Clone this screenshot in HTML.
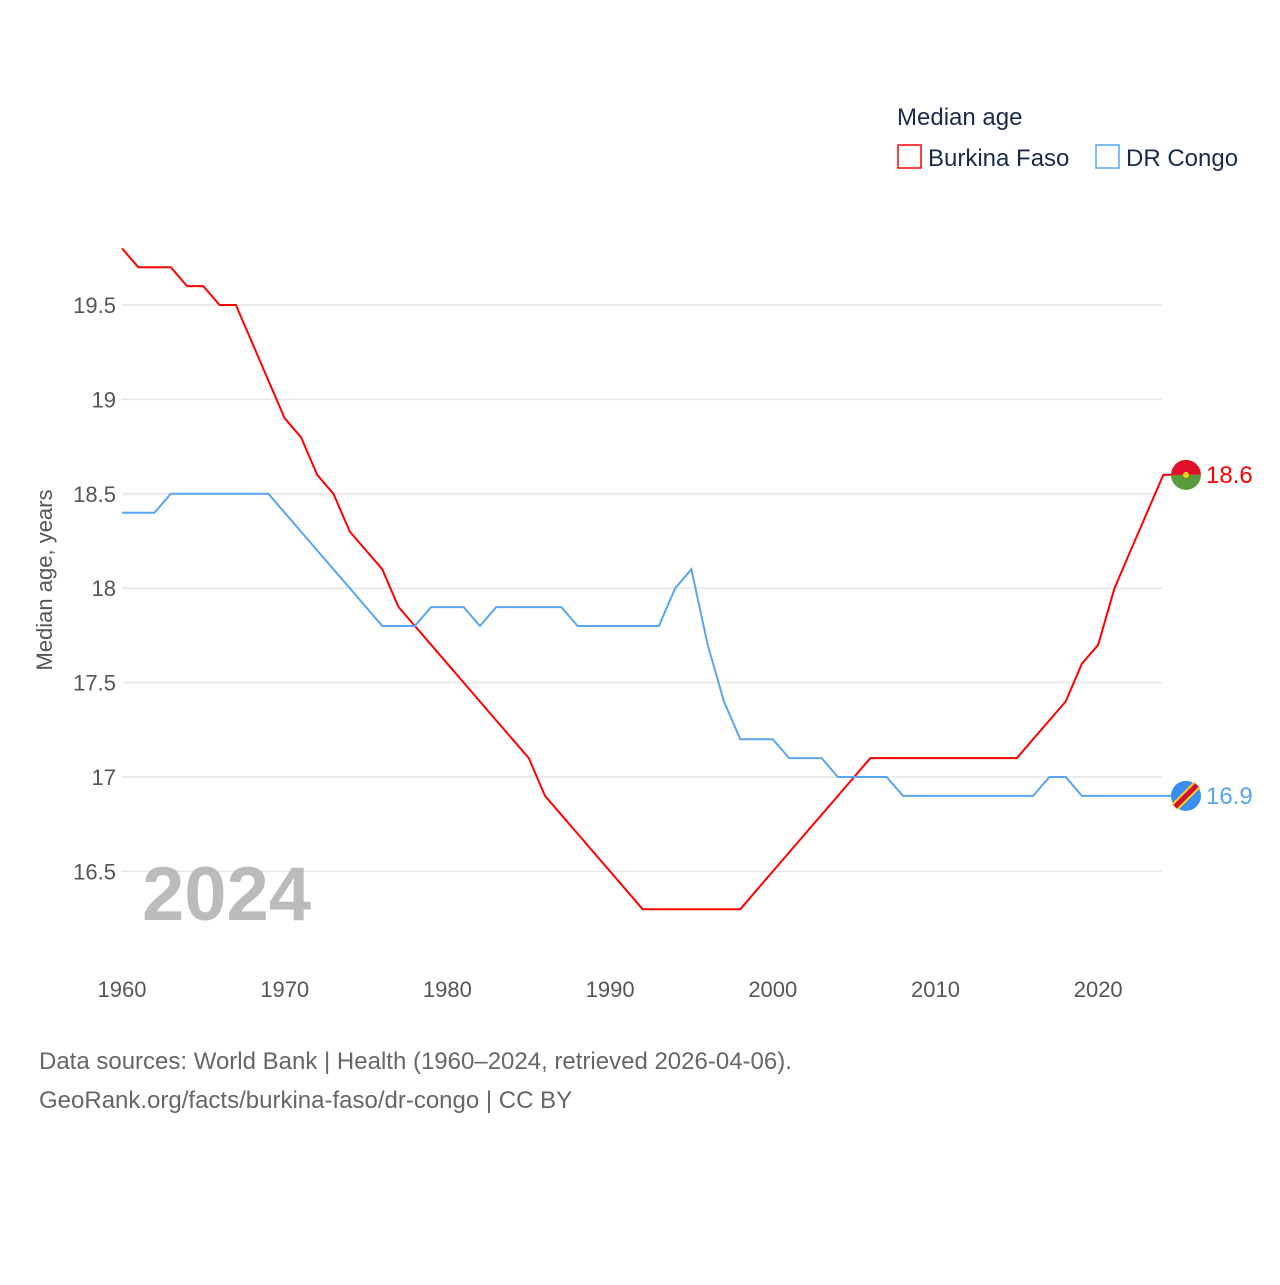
<!DOCTYPE html>
<html><head><meta charset="utf-8"><style>
body{margin:0;background:#fff;font-family:"Liberation Sans",sans-serif;}
svg text{font-family:"Liberation Sans",sans-serif;}
</style></head><body>
<svg width="1280" height="1280" viewBox="0 0 1280 1280">
<g id="grid"></g>
<g id="yticks"></g>
<g id="xticks"></g>
<text x="52" y="580" transform="rotate(-90 52 580)" text-anchor="middle" font-size="22" fill="#555">Median age, years</text>
<text x="142" y="920" font-size="76" font-weight="bold" fill="#bbb">2024</text>
<g id="series"></g>
<text x="897" y="125" font-size="24" fill="#1a2b4a">Median age</text>
<g><rect x="898" y="145" width="23" height="23" fill="none" stroke="#f00" stroke-width="1.5"/><text x="928" y="166" font-size="24" fill="#1a2b4a">Burkina Faso</text></g>
<g><rect x="1096" y="145" width="23" height="23" fill="none" stroke="#5aa5f0" stroke-width="1.5"/><text x="1126" y="166" font-size="24" fill="#1a2b4a">DR Congo</text></g>
<text x="39" y="1069" font-size="24" fill="#666">Data sources: World Bank | Health (1960–2024, retrieved 2026-04-06).</text>
<text x="39" y="1108" font-size="24" fill="#666">GeoRank.org/facts/burkina-faso/dr-congo | CC BY</text>
</svg>
<script>
const years=[];for(let y=1960;y<=2024;y++)years.push(y);
const burkina=[19.8,19.7,19.7,19.7,19.6,19.6,19.5,19.5,19.3,19.1,18.9,18.8,18.6,18.5,18.3,18.2,18.1,17.9,17.8,17.7,17.6,17.5,17.4,17.3,17.2,17.1,16.9,16.8,16.7,16.6,16.5,16.4,16.3,16.3,16.3,16.3,16.3,16.3,16.3,16.4,16.5,16.6,16.7,16.8,16.9,17.0,17.1,17.1,17.1,17.1,17.1,17.1,17.1,17.1,17.1,17.1,17.2,17.3,17.4,17.6,17.7,18.0,18.2,18.4,18.6];
const congo=[18.4,18.4,18.4,18.5,18.5,18.5,18.5,18.5,18.5,18.5,18.4,18.3,18.2,18.1,18.0,17.9,17.8,17.8,17.8,17.9,17.9,17.9,17.8,17.9,17.9,17.9,17.9,17.9,17.8,17.8,17.8,17.8,17.8,17.8,18.0,18.1,17.7,17.4,17.2,17.2,17.2,17.1,17.1,17.1,17.0,17.0,17.0,17.0,16.9,16.9,16.9,16.9,16.9,16.9,16.9,16.9,16.9,17.0,17.0,16.9,16.9,16.9,16.9,16.9,16.9];
const yTicks=[16.5,17,17.5,18,18.5,19,19.5];
const xTicks=[1960,1970,1980,1990,2000,2010,2020];
const X=y=>122+(y-1960)*16.27, Y=v=>777-(v-17)*188.8;
const NS="http://www.w3.org/2000/svg";
function mk(t,a,p){const e=document.createElementNS(NS,t);for(const k in a)e.setAttribute(k,a[k]);p.appendChild(e);return e;}
const grid=document.getElementById('grid'),yt=document.getElementById('yticks'),xt=document.getElementById('xticks'),ser=document.getElementById('series');
yTicks.forEach(v=>{
 const l=mk('line',{x1:122,x2:1162,y1:Y(v),y2:Y(v),stroke:'#e6e6e6','stroke-width':1.5},grid);
 
 
 const t=mk('text',{x:116,y:Y(v)+8,'text-anchor':'end','font-size':22,fill:'#555'},yt);t.textContent=String(v);
 
 
});
xTicks.forEach(v=>{
 const t=mk('text',{x:X(v),y:997,'text-anchor':'middle','font-size':22,fill:'#555'},xt);t.textContent=String(v);
 
 
});
function line(vals,color,name){
 const d=vals.map((v,i)=>(i?'L':'M')+X(years[i]).toFixed(1)+','+Y(v).toFixed(1)).join('')+'L1186,'+Y(vals[vals.length-1]).toFixed(1);
 const p=mk('path',{d:d,fill:'none',stroke:color,'stroke-width':2},ser);
 
 
}
line(burkina,'#f00','burkina-faso-line');
line(congo,'#5aa5f0','dr-congo-line');
const by=Y(burkina[burkina.length-1]),cy=Y(congo[congo.length-1]);
const g1=mk('g',{},ser);


mk('path',{d:`M1171,${by}a15,15 0 0 1 30,0z`,fill:'#e0102a'},g1);
mk('path',{d:`M1171,${by}a15,15 0 0 0 30,0z`,fill:'#5a9a3a'},g1);
mk('circle',{cx:1186,cy:by,r:3,fill:'#fcd116'},g1);
const t1=mk('text',{x:1206,y:by+8,'font-size':24,fill:'#f00'},ser);t1.textContent=burkina[burkina.length-1].toFixed(1);


const g2=mk('g',{},ser);


mk('circle',{cx:1186,cy:cy,r:15,fill:'#3a8ef0'},g2);
mk('line',{x1:1175,y1:cy+11,x2:1197,y2:cy-11,stroke:'#fcd116','stroke-width':9},g2);
mk('line',{x1:1175,y1:cy+11,x2:1197,y2:cy-11,stroke:'#d21034','stroke-width':5},g2);
const t2=mk('text',{x:1206,y:cy+8,'font-size':24,fill:'#5aa5f0'},ser);t2.textContent=congo[congo.length-1].toFixed(1);


</script>
</body></html>
